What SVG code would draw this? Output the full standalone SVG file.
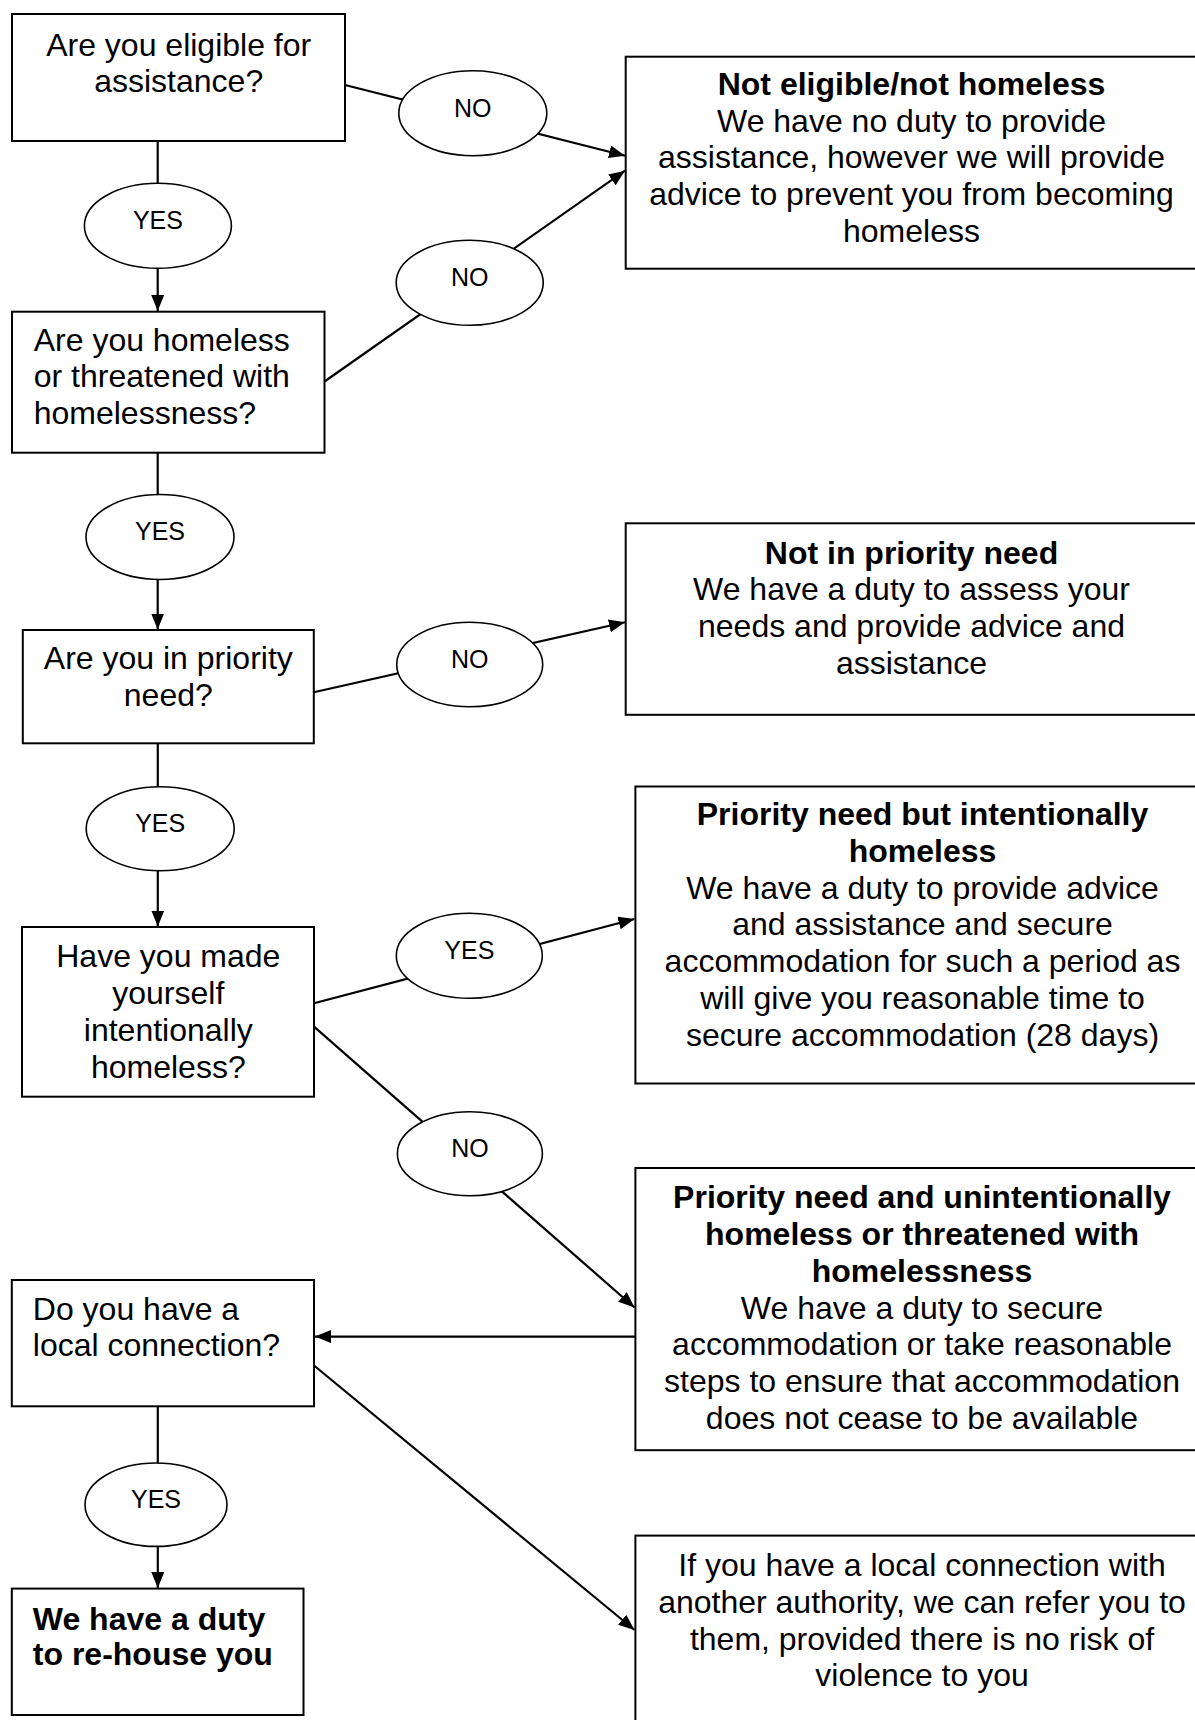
<svg xmlns="http://www.w3.org/2000/svg" width="1195" height="1720" viewBox="0 0 1195 1720">
<defs>
<marker id="arr" markerUnits="userSpaceOnUse" markerWidth="17" markerHeight="14" refX="16" refY="6.5" orient="auto">
<path d="M0,0 L16,6.5 L0,13 z" fill="#000"/>
</marker>
<style>
.box{fill:#fff;stroke:#000;stroke-width:2}
.ell{fill:#fff;stroke:#000;stroke-width:1.6}
.con{fill:none;stroke:#000;stroke-width:2.2;marker-end:url(#arr)}
text{font-family:"Liberation Sans",Arial,sans-serif;fill:#000}
.t{font-size:32px}
.b{font-size:32px;font-weight:bold}
.c{text-anchor:middle}
.lbl{font-size:25px;text-anchor:middle}
</style>
</defs>
<rect width="1195" height="1720" fill="#fff"/>
<g id="connectors">
<line class="con" x1="345" y1="85" x2="625" y2="155.7"/>
<line class="con" x1="324.5" y1="381.5" x2="625" y2="170.7"/>
<line class="con" x1="157.7" y1="141" x2="157.7" y2="311"/>
<line class="con" x1="157.7" y1="452.7" x2="157.7" y2="629.5"/>
<line class="con" x1="313.8" y1="692.3" x2="625" y2="622.3"/>
<line class="con" x1="157.8" y1="743.3" x2="157.8" y2="926.5"/>
<line class="con" x1="314" y1="1003.3" x2="634.5" y2="919"/>
<line class="con" x1="314" y1="1026.7" x2="634.5" y2="1307.5"/>
<line class="con" x1="635.4" y1="1336.6" x2="315" y2="1336.6"/>
<line class="con" x1="314" y1="1365.5" x2="634.5" y2="1630"/>
<line class="con" x1="157.8" y1="1406.3" x2="157.8" y2="1588"/>
</g>
<g id="q-eligible">
<rect class="box" x="12" y="14" width="333" height="127"/>
<text class="t c" x="178.7" y="55.5">Are you eligible for</text>
<text class="t c" x="178.7" y="92">assistance?</text>
</g>
<g id="q-homeless">
<rect class="box" x="12" y="311.7" width="312.5" height="141"/>
<text class="t" x="33.7" y="350.7">Are you homeless</text>
<text class="t" x="33.7" y="387.3">or threatened with</text>
<text class="t" x="33.7" y="423.8">homelessness?</text>
</g>
<g id="q-priority">
<rect class="box" x="22.8" y="630" width="291" height="113.3"/>
<text class="t c" x="168.3" y="669">Are you in priority</text>
<text class="t c" x="168.3" y="705.5">need?</text>
</g>
<g id="q-intentional">
<rect class="box" x="22" y="927" width="292" height="169.7"/>
<text class="t c" x="168.3" y="967.3">Have you made</text>
<text class="t c" x="168.3" y="1004">yourself</text>
<text class="t c" x="168.3" y="1041">intentionally</text>
<text class="t c" x="168.3" y="1078">homeless?</text>
</g>
<g id="q-local">
<rect class="box" x="11.8" y="1280" width="302.2" height="126.3"/>
<text class="t" x="32.8" y="1319.7">Do you have a</text>
<text class="t" x="32.8" y="1356">local connection?</text>
</g>
<g id="r-rehouse">
<rect class="box" x="11.8" y="1588.6" width="291.7" height="126.4"/>
<text class="b" x="32.8" y="1630">We have a duty</text>
<text class="b" x="32.8" y="1665">to re-house you</text>
</g>
<g id="r-not-eligible">
<rect class="box" x="625.7" y="56.7" width="590" height="212"/>
<text class="b c" x="911.5" y="95">Not eligible/not homeless</text>
<text class="t c" x="911.5" y="131.7">We have no duty to provide</text>
<text class="t c" x="911.5" y="168.4">assistance, however we will provide</text>
<text class="t c" x="911.5" y="205.1">advice to prevent you from becoming</text>
<text class="t c" x="911.5" y="241.8">homeless</text>
</g>
<g id="r-not-priority">
<rect class="box" x="625.7" y="523.3" width="590" height="191.5"/>
<text class="b c" x="911.5" y="563.5">Not in priority need</text>
<text class="t c" x="911.5" y="600.2">We have a duty to assess your</text>
<text class="t c" x="911.5" y="637">needs and provide advice and</text>
<text class="t c" x="911.5" y="673.7">assistance</text>
</g>
<g id="r-intentional">
<rect class="box" x="635.4" y="786.5" width="590" height="297"/>
<text class="b c" x="922.5" y="825">Priority need but intentionally</text>
<text class="b c" x="922.5" y="861.8">homeless</text>
<text class="t c" x="922.5" y="898.6">We have a duty to provide advice</text>
<text class="t c" x="922.5" y="935.4">and assistance and secure</text>
<text class="t c" x="922.5" y="972.2">accommodation for such a period as</text>
<text class="t c" x="922.5" y="1009">will give you reasonable time to</text>
<text class="t c" x="922.5" y="1045.8">secure accommodation (28 days)</text>
</g>
<g id="r-unintentional">
<rect class="box" x="635.4" y="1168" width="590" height="282.2"/>
<text class="b c" x="922" y="1208.2">Priority need and unintentionally</text>
<text class="b c" x="922" y="1245">homeless or threatened with</text>
<text class="b c" x="922" y="1281.8">homelessness</text>
<text class="t c" x="922" y="1318.6">We have a duty to secure</text>
<text class="t c" x="922" y="1355.4">accommodation or take reasonable</text>
<text class="t c" x="922" y="1392.2">steps to ensure that accommodation</text>
<text class="t c" x="922" y="1429">does not cease to be available</text>
</g>
<g id="r-refer">
<rect class="box" x="635.4" y="1535.6" width="590" height="200"/>
<text class="t c" x="922" y="1576">If you have a local connection with</text>
<text class="t c" x="922" y="1612.8">another authority, we can refer you to</text>
<text class="t c" x="922" y="1649.6">them, provided there is no risk of</text>
<text class="t c" x="922" y="1686.4">violence to you</text>
</g>
<g id="l-no1"><ellipse class="ell" cx="472.8" cy="113.2" rx="74" ry="42.5"/><text class="lbl" x="472.8" y="116.5">NO</text></g>
<g id="l-yes1"><ellipse class="ell" cx="157.9" cy="225.8" rx="73.5" ry="42.5"/><text class="lbl" x="157.9" y="229.3">YES</text></g>
<g id="l-no2"><ellipse class="ell" cx="469.7" cy="282.8" rx="73.5" ry="42.5"/><text class="lbl" x="469.7" y="286">NO</text></g>
<g id="l-yes2"><ellipse class="ell" cx="160" cy="537" rx="74" ry="42.5"/><text class="lbl" x="160" y="540">YES</text></g>
<g id="l-no3"><ellipse class="ell" cx="469.7" cy="664.5" rx="73" ry="42.3"/><text class="lbl" x="469.7" y="667.5">NO</text></g>
<g id="l-yes3"><ellipse class="ell" cx="160.2" cy="828.7" rx="74" ry="42"/><text class="lbl" x="160.2" y="831.7">YES</text></g>
<g id="l-yes4"><ellipse class="ell" cx="469.3" cy="955.8" rx="73" ry="42.5"/><text class="lbl" x="469.3" y="958.8">YES</text></g>
<g id="l-no4"><ellipse class="ell" cx="469.9" cy="1153.7" rx="72.5" ry="42"/><text class="lbl" x="469.9" y="1156.7">NO</text></g>
<g id="l-yes5"><ellipse class="ell" cx="156" cy="1504.7" rx="71" ry="41.7"/><text class="lbl" x="156" y="1507.7">YES</text></g>
</svg>
